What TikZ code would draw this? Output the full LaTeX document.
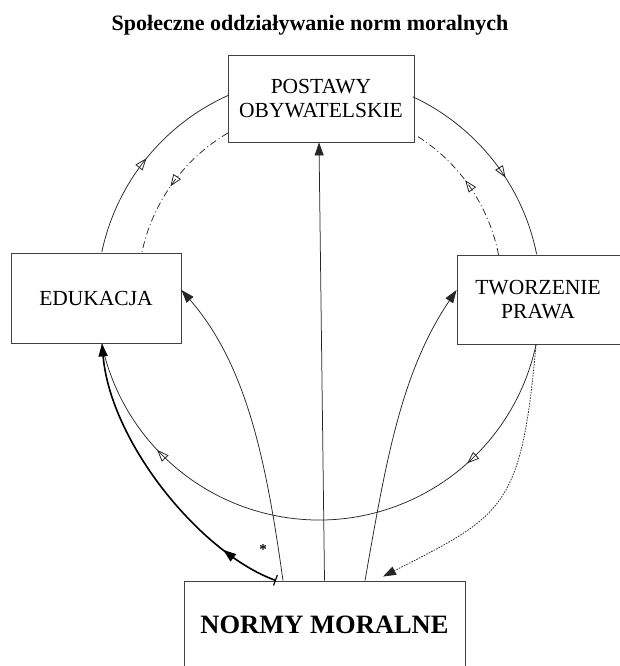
\documentclass[tikz,border=0pt]{standalone}
\usepackage{fontspec}
\setmainfont{Liberation Serif}
\usetikzlibrary{arrows.meta,decorations.markings,calc}
\begin{document}
\begin{tikzpicture}[x=1pt,y=1pt,
  box/.style={draw=black!75, line width=0.9pt, rectangle, inner sep=0pt, align=center,
    font=\fontsize{21.5}{24}\selectfont},
  conn/.style={draw=black!85, line width=0.75pt},
  thickconn/.style={draw=black, line width=1.6pt},
  dashdot/.style={dash pattern=on 7pt off 3pt on 1pt off 3pt},
  dotline/.style={dash pattern=on 1.6pt off 1.2pt},
  oarr/.tip={Triangle[open,length=12pt,width=9pt,line width=0.8pt]},
  farr/.tip={Triangle[length=13pt,width=9pt]},
  omark/.style={postaction={decorate,decoration={markings,mark=at position #1 with {\arrow{oarr}}}}},
]
\useasboundingbox (0,0) rectangle (620,666);

% title
\node[font=\fontsize{22}{25}\selectfont\bfseries] (title) at (310,641) {Społeczne oddziaływanie norm moralnych};

% boxes
\node[box, minimum width=186pt, minimum height=87pt] (post) at (321,567.5) {POSTAWY\\OBYWATELSKIE};
\node[box, minimum width=170pt, minimum height=90pt] (edu) at (96,368) {EDUKACJA};
\node[box, minimum width=170pt, minimum height=89pt, text width=170pt] (twor) at (542,366.5) {\hspace*{-8pt}TWORZENIE\\\hspace*{-8pt}PRAWA};
\node[box, minimum width=281pt, minimum height=88pt, font=\fontsize{26.5}{30}\selectfont\bfseries] (norm) at (324.5,41) {NORMY MORALNE};

% circle centres
\coordinate (O) at (319,368);
\coordinate (I) at (320,376);

% outer circle (clockwise cycle)
\draw[conn, omark=0.5] ([shift={(168:222)}]O) arc[start angle=168, end angle=114, radius=222];
\draw[conn, omark=0.6] ([shift={(65:222)}]O) arc[start angle=65, end angle=11.4, radius=222];
\draw[conn, postaction={decorate,decoration={markings,
    mark=at position 0.23 with {\arrow{oarr}},
    mark=at position 0.8 with {\arrow{oarr}}}}]
  ([shift={(-12.3:222)}]O) arc[start angle=-12.3, end angle=-168, radius=222];

% inner dash-dot circle (counter-clockwise)
\draw[conn, dashdot, omark=0.52] ([shift={(120.4:182)}]I) arc[start angle=120.4, end angle=168.3, radius=182];
\draw[conn, dashdot, omark=0.56] ([shift={(11.1:182)}]I) arc[start angle=11.1, end angle=57.5, radius=182];

% from NORMY MORALNE
\draw[conn, -{farr}] ([xshift=0pt]norm.north) -- ([xshift=-2pt]post.south);
\draw[conn, -{farr}] ([xshift=-41.5pt]norm.north) .. controls +(98:120) and +(311:100) .. ([yshift=8pt]edu.east);
\draw[conn, -{farr}] ([xshift=40.5pt]norm.north) .. controls +(80:120) and +(236:100) .. ([yshift=9.5pt]twor.west);
\draw[thickconn, {Bar[width=11pt,line width=1.2pt]}-{farr},
  postaction={decorate,decoration={markings,mark=at position 0.2 with {\arrow{farr}}}}]
  ([xshift=-48.5pt]norm.north) .. controls +(160:80) and +(275:100) .. ([xshift=6pt]edu.south);
\node[font=\fontsize{15}{15}\selectfont\bfseries] (star) at (263,116) {*};

% dotted from TWORZENIE PRAWA
\draw[conn, dotline, -{farr}] ([xshift=-6pt]twor.south) .. controls +(-95:165) and +(27:135) .. ([xshift=58.5pt,yshift=4pt]norm.north);

\end{tikzpicture}
\end{document}
